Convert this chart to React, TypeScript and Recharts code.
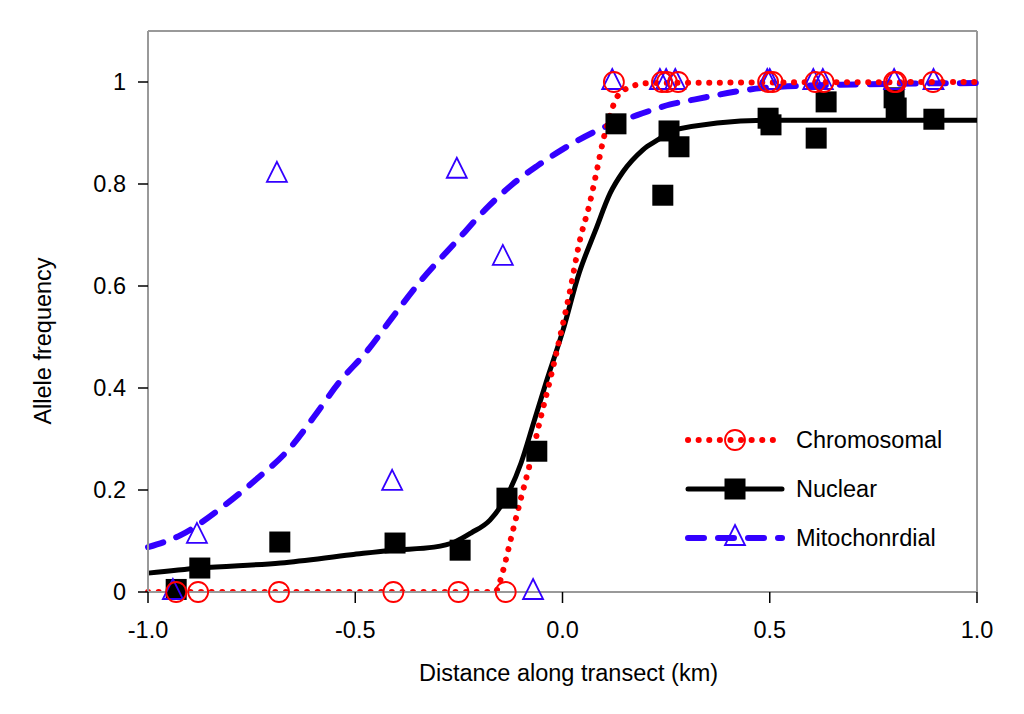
import {
  ComposedChart,
  Line,
  Scatter,
  XAxis,
  YAxis,
  ReferenceLine,
  Label,
} from "recharts";

const FONT = "'Liberation Sans', Arial, Helvetica, sans-serif";
const FONT_SIZE = 23.5;
const RED = "#ff0000";
const BLUE = "#3300ff";
const BLACK = "#000000";

// x tick values and y tick values
const xTicks = [-1, -0.5, 0, 0.5, 1];
const yTicks = [0, 0.2, 0.4, 0.6, 0.8, 1];

// observed allele frequencies at each sampling site
const chromosomalPoints = [
  { x: -0.932, y: 0 },
  { x: -0.879, y: 0 },
  { x: -0.684, y: 0 },
  { x: -0.408, y: 0 },
  { x: -0.251, y: 0 },
  { x: -0.137, y: 0 },
  { x: 0.124, y: 1 },
  { x: 0.24, y: 1 },
  { x: 0.252, y: 1 },
  { x: 0.279, y: 1 },
  { x: 0.496, y: 1 },
  { x: 0.507, y: 1 },
  { x: 0.61, y: 1 },
  { x: 0.63, y: 1 },
  { x: 0.8, y: 1 },
  { x: 0.805, y: 1 },
  { x: 0.894, y: 1 },
];

const nuclearPoints = [
  { x: -0.932, y: 0.005 },
  { x: -0.875, y: 0.047 },
  { x: -0.682, y: 0.098 },
  { x: -0.404, y: 0.096 },
  { x: -0.247, y: 0.082 },
  { x: -0.134, y: 0.184 },
  { x: -0.062, y: 0.276 },
  { x: 0.129, y: 0.918 },
  { x: 0.242, y: 0.778 },
  { x: 0.257, y: 0.904 },
  { x: 0.281, y: 0.873 },
  { x: 0.496, y: 0.929 },
  { x: 0.503, y: 0.916 },
  { x: 0.612, y: 0.89 },
  { x: 0.636, y: 0.961 },
  { x: 0.8, y: 0.969 },
  { x: 0.805, y: 0.949 },
  { x: 0.896, y: 0.927 },
];

const mitoPoints = [
  { x: -0.94, y: 0 },
  { x: -0.882, y: 0.11 },
  { x: -0.689, y: 0.818 },
  { x: -0.411, y: 0.214 },
  { x: -0.255, y: 0.826 },
  { x: -0.144, y: 0.655 },
  { x: -0.071, y: 0 },
  { x: 0.12, y: 1 },
  { x: 0.235, y: 1 },
  { x: 0.25, y: 1 },
  { x: 0.272, y: 1 },
  { x: 0.494, y: 1 },
  { x: 0.5, y: 1 },
  { x: 0.605, y: 1 },
  { x: 0.628, y: 1 },
  { x: 0.8, y: 1 },
  { x: 0.895, y: 1 },
];

// fitted clines
const chromosomalCurve = [
  { x: -1, y: 0 },
  { x: -0.163, y: 0 },
  { x: -0.143, y: 0.043 },
  { x: -0.127, y: 0.096 },
  { x: -0.103, y: 0.175 },
  { x: -0.078, y: 0.253 },
  { x: -0.054, y: 0.337 },
  { x: -0.03, y: 0.416 },
  { x: -0.006, y: 0.5 },
  { x: 0.018, y: 0.59 },
  { x: 0.042, y: 0.69 },
  { x: 0.066, y: 0.763 },
  { x: 0.083, y: 0.827 },
  { x: 0.098, y: 0.885 },
  { x: 0.115, y: 0.935 },
  { x: 0.131, y: 0.97 },
  { x: 0.163, y: 0.99 },
  { x: 0.21, y: 0.998 },
  { x: 1, y: 1 },
];

const nuclearCurve = [
  { x: -1, y: 0.037 },
  { x: -0.875, y: 0.047 },
  { x: -0.68, y: 0.057 },
  { x: -0.51, y: 0.073 },
  { x: -0.41, y: 0.082 },
  { x: -0.31, y: 0.088 },
  { x: -0.26, y: 0.098 },
  { x: -0.22, y: 0.116 },
  { x: -0.175, y: 0.141 },
  { x: -0.15, y: 0.167 },
  { x: -0.127, y: 0.2 },
  { x: -0.1, y: 0.253 },
  { x: -0.07, y: 0.331 },
  { x: -0.04, y: 0.41 },
  { x: 0.0, y: 0.51 },
  { x: 0.04, y: 0.625 },
  { x: 0.08, y: 0.71 },
  { x: 0.115, y: 0.782 },
  { x: 0.146, y: 0.824 },
  { x: 0.194, y: 0.867 },
  { x: 0.24, y: 0.892 },
  { x: 0.26, y: 0.905 },
  { x: 0.5, y: 0.925 },
  { x: 1, y: 0.925 },
];

const mitoCurve = [
  { x: -1, y: 0.088 },
  { x: -0.92, y: 0.112 },
  { x: -0.82, y: 0.167 },
  { x: -0.74, y: 0.22 },
  { x: -0.66, y: 0.28 },
  { x: -0.6, y: 0.343 },
  { x: -0.54, y: 0.41 },
  { x: -0.47, y: 0.474 },
  { x: -0.41, y: 0.539 },
  { x: -0.34, y: 0.612 },
  { x: -0.26, y: 0.684 },
  { x: -0.18, y: 0.755 },
  { x: -0.12, y: 0.8 },
  { x: -0.06, y: 0.836 },
  { x: 0.0, y: 0.868 },
  { x: 0.1, y: 0.911 },
  { x: 0.18, y: 0.935 },
  { x: 0.26, y: 0.956 },
  { x: 0.32, y: 0.966 },
  { x: 0.48, y: 0.988 },
  { x: 0.64, y: 0.994 },
  { x: 1, y: 0.998 },
];

const circleShape = (p: any) => (
  <circle cx={p.cx} cy={p.cy} r={10} fill="none" stroke={RED} strokeWidth={1.8} />
);
const squareShape = (p: any) => (
  <rect x={p.cx - 10.5} y={p.cy - 10.5} width={21} height={21} fill={BLACK} />
);
const triangleShape = (p: any) => (
  <path
    d={`M${p.cx},${p.cy - 13} L${p.cx + 10},${p.cy + 7} L${p.cx - 10},${p.cy + 7} Z`}
    fill="none"
    stroke={BLUE}
    strokeWidth={1.8}
  />
);

const legendItems = [
  { name: "Chromosomal", color: RED, width: 6, dash: "0.1 10.5", marker: "circle" },
  { name: "Nuclear", color: BLACK, width: 5, dash: undefined, marker: "square" },
  { name: "Mitochonrdial", color: BLUE, width: 6, dash: "16 14", marker: "triangle" },
];

const ChartLegend = () => (
  <svg
    width={1000}
    height={700}
    style={{ position: "absolute", left: 0, top: 0, pointerEvents: "none" }}
  >
    {legendItems.map((item, i) => {
      const y = 432 + i * 49;
      const cx = 727;
      return (
        <g key={item.name}>
          <line
            x1={680}
            x2={774}
            y1={y}
            y2={y}
            stroke={item.color}
            strokeWidth={item.width}
            strokeDasharray={item.dash}
            strokeLinecap="round"
          />
          {item.marker === "circle" && circleShape({ cx, cy: y })}
          {item.marker === "square" && squareShape({ cx, cy: y })}
          {item.marker === "triangle" && triangleShape({ cx, cy: y })}
          <text
            x={788}
            y={y}
            dominantBaseline="central"
            fontSize={FONT_SIZE}
            fontFamily={FONT}
            fill="#000"
          >
            {item.name}
          </text>
        </g>
      );
    })}
  </svg>
);

const XLabel = (props: any) => {
  const { x, y, width } = props.viewBox;
  return (
    <text
      x={x + width / 2 + 6}
      y={y + 89}
      textAnchor="middle"
      fontSize={FONT_SIZE}
      fontFamily={FONT}
      fill="#000"
    >
      Distance along transect (km)
    </text>
  );
};

const YLabel = (props: any) => {
  const { x, y } = props.viewBox;
  const lx = x + 15;
  const ly = y + 310;
  return (
    <text
      x={lx}
      y={ly}
      transform={`rotate(-90, ${lx}, ${ly})`}
      textAnchor="middle"
      dominantBaseline="central"
      fontSize={FONT_SIZE}
      fontFamily={FONT}
      fill="#000"
    >
      Allele frequency
    </text>
  );
};

const tickStyle = { fill: "#000", fontSize: FONT_SIZE, fontFamily: FONT };

export default function App() {
  return (
    <div style={{ position: "relative", width: 1000, height: 700, background: "#fff" }}>
      <ComposedChart
        width={1000}
        height={700}
        margin={{ top: 23, right: 31, left: 20, bottom: 16 }}
      >
        <XAxis
          type="number"
          dataKey="x"
          domain={[-1, 1]}
          ticks={xTicks}
          tickFormatter={(v: number) => v.toFixed(1)}
          height={100}
          tick={tickStyle}
          tickSize={11}
          tickMargin={18}
          axisLine={{ stroke: "#999", strokeWidth: 2 }}
          tickLine={{ stroke: "#000", strokeWidth: 1.5 }}
        >
          <Label content={XLabel} />
        </XAxis>
        <YAxis
          yAxisId="y"
          type="number"
          dataKey="y"
          domain={[0, 1.1]}
          ticks={yTicks}
          tickFormatter={(v: number) => (v === 0 || v === 1 ? String(v) : v.toFixed(1))}
          width={120}
          tick={tickStyle}
          tickSize={10}
          tickMargin={12}
          axisLine={{ stroke: "#999", strokeWidth: 2 }}
          tickLine={{ stroke: "#000", strokeWidth: 1.5 }}
        >
          <Label content={YLabel} />
        </YAxis>
        <YAxis
          yAxisId="clip"
          orientation="right"
          width={0}
          type="number"
          dataKey="y"
          domain={[0, 1.1]}
          allowDataOverflow
          hide
        />

        <ReferenceLine yAxisId="y" y={1.1} stroke="#999" strokeWidth={2} />
        <ReferenceLine yAxisId="y" x={1} stroke="#999" strokeWidth={2} />

        <Line
          yAxisId="y"
          data={mitoCurve}
          dataKey="y"
          type="monotone"
          stroke={BLUE}
          strokeWidth={6}
          strokeDasharray="16 14"
          strokeLinecap="round"
          dot={false}
          activeDot={false}
          isAnimationActive={false}
        />
        <Line
          yAxisId="y"
          data={nuclearCurve}
          dataKey="y"
          type="monotone"
          stroke={BLACK}
          strokeWidth={5}
          dot={false}
          activeDot={false}
          isAnimationActive={false}
        />
        <Line
          yAxisId="clip"
          data={chromosomalCurve}
          dataKey="y"
          type="monotone"
          stroke={RED}
          strokeWidth={6}
          strokeDasharray="0.1 10.5"
          strokeLinecap="round"
          dot={false}
          activeDot={false}
          isAnimationActive={false}
        />

        <Scatter yAxisId="y" data={nuclearPoints} shape={squareShape} isAnimationActive={false} />
        <Scatter yAxisId="y" data={mitoPoints} shape={triangleShape} isAnimationActive={false} />
        <Scatter yAxisId="y" data={chromosomalPoints} shape={circleShape} isAnimationActive={false} />
      </ComposedChart>
      <ChartLegend />
    </div>
  );
}
